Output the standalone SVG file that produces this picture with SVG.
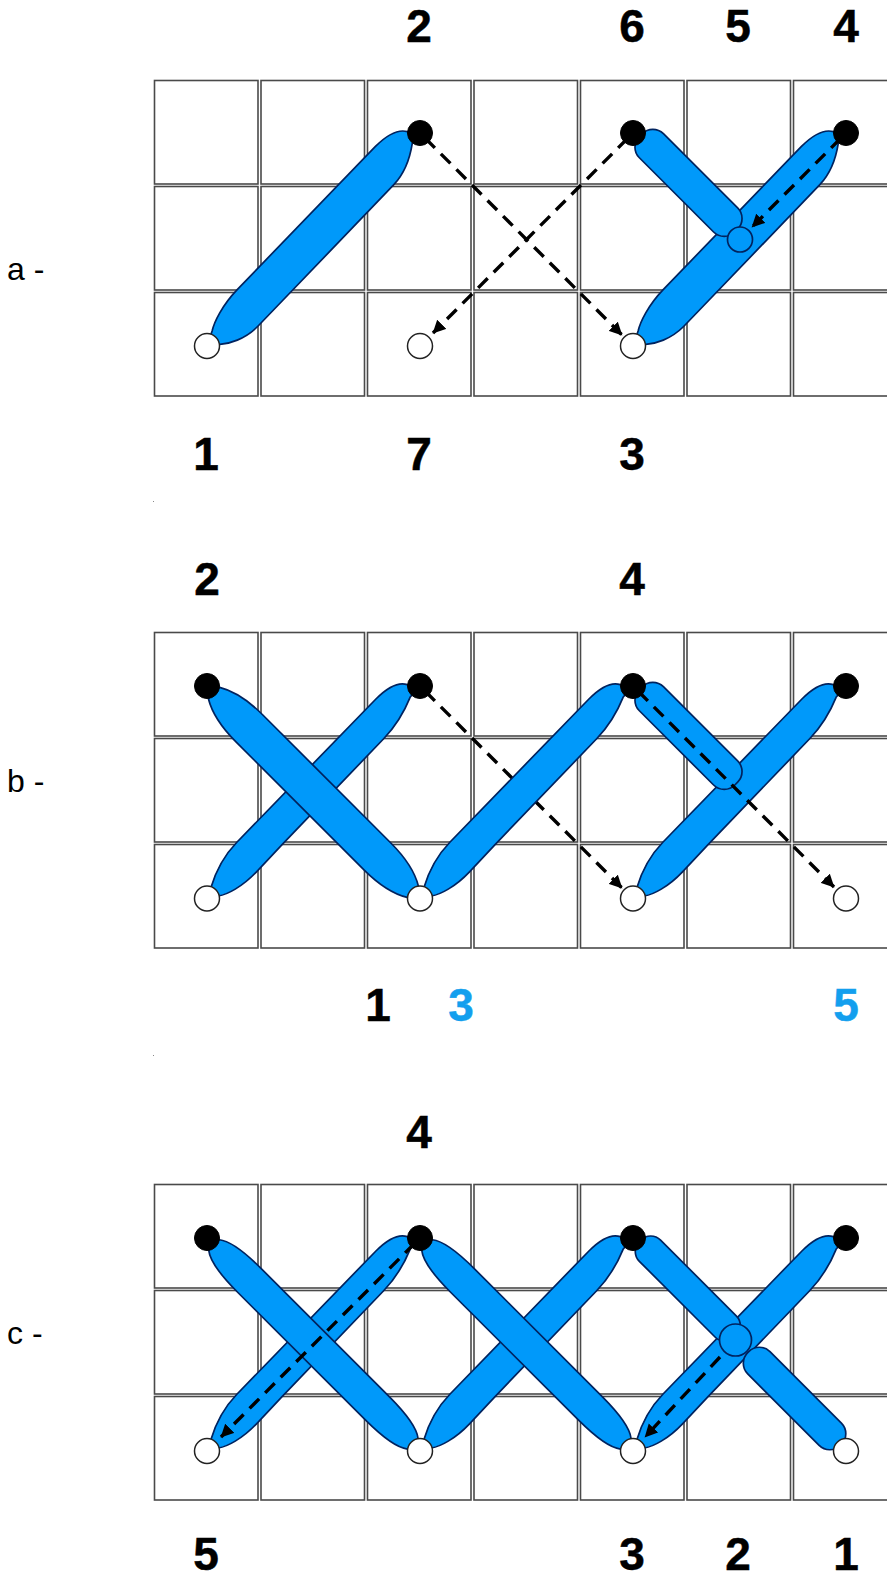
<svg xmlns="http://www.w3.org/2000/svg" width="887" height="1576" viewBox="0 0 887 1576">
<style>
.cell{fill:#fff;stroke:#4a4a4a;stroke-width:1.6}
.st{fill:#0099fa;stroke:#00235f;stroke-width:1.7}
.blk{fill:#000;stroke:#000;stroke-width:1}
.wht{fill:#fff;stroke:#222;stroke-width:1.5}
.mid{fill:#0099fa;stroke:#00235f;stroke-width:1.7}
.dash{fill:none;stroke:#000;stroke-width:3.4;stroke-dasharray:13.5 8.5;stroke-dashoffset:14.5;marker-end:url(#arr)}
.num{font-family:"Liberation Sans",Arial,sans-serif;font-weight:700;font-size:46px;text-anchor:middle;fill:#000;stroke:#000;stroke-width:.5}
.num.cy{fill:#139fee;stroke:#139fee}
.tag{font-family:"Liberation Sans",Arial,sans-serif;font-size:32px;fill:#000}
</style>
<defs>
<marker id="arr" markerUnits="userSpaceOnUse" markerWidth="14" markerHeight="14" refX="11.5" refY="6.5" orient="auto" viewBox="0 0 13 13"><path d="M0,0.5L12,6.5L0,12.5Z" fill="#000"/></marker>
<path id="long" d="M10,-7.5C18,-14 38,-16.7 60,-16.7L241,-16.7C263,-16.7 283,-14 291,-7.5L291,7.5C283,14 263,16.7 241,16.7L60,16.7C38,16.7 18,14 10,7.5Z"/>
<path id="longw" d="M10,-8C20,-14 38,-19 60,-19L241,-19C263,-19 281,-14 291,-8L291,8C281,14 263,19 241,19L60,19C38,19 20,14 10,8Z"/>
<path id="asym" d="M0,0L8,10C11,16 20,22 40,22L240,19C264,18.6 280,11 291,5L301,0L291,-6C284,-11 268,-16.4 247,-15.8L210,-14.6L63,-11.6C45,-11.2 28,-6.5 15,-1Z"/>
<path id="asymw" d="M0,0L8,10C12,17 22,22 41,22L240,18.5C262,18 279,12 287,7L301,0L291,-8C284,-14 270,-22 252,-22L200,-21L55,-18C38,-17.6 24,-10 13,-2Z"/>
<rect id="short" x="7" y="-21" width="135" height="34" rx="15"/>
<g id="grid">
<rect class="cell" x="154.5" y="0" width="103.5" height="103.5"/><rect class="cell" x="261" y="0" width="103.5" height="103.5"/><rect class="cell" x="367.5" y="0" width="103.5" height="103.5"/><rect class="cell" x="474" y="0" width="103.5" height="103.5"/><rect class="cell" x="580.5" y="0" width="103.5" height="103.5"/><rect class="cell" x="687" y="0" width="103.5" height="103.5"/><rect class="cell" x="793.5" y="0" width="103.5" height="103.5"/>
<rect class="cell" x="154.5" y="106" width="103.5" height="103.5"/><rect class="cell" x="261" y="106" width="103.5" height="103.5"/><rect class="cell" x="367.5" y="106" width="103.5" height="103.5"/><rect class="cell" x="474" y="106" width="103.5" height="103.5"/><rect class="cell" x="580.5" y="106" width="103.5" height="103.5"/><rect class="cell" x="687" y="106" width="103.5" height="103.5"/><rect class="cell" x="793.5" y="106" width="103.5" height="103.5"/>
<rect class="cell" x="154.5" y="212" width="103.5" height="103.5"/><rect class="cell" x="261" y="212" width="103.5" height="103.5"/><rect class="cell" x="367.5" y="212" width="103.5" height="103.5"/><rect class="cell" x="474" y="212" width="103.5" height="103.5"/><rect class="cell" x="580.5" y="212" width="103.5" height="103.5"/><rect class="cell" x="687" y="212" width="103.5" height="103.5"/><rect class="cell" x="793.5" y="212" width="103.5" height="103.5"/>
</g>
</defs>
<rect width="887" height="1576" fill="#fff"/>

<g id="panel-a">
<use href="#grid" y="80.5"/>
<g id="stitches-a">
<use href="#asymw" class="st" transform="translate(420,133) rotate(135)"/>
<use href="#asymw" class="st" transform="translate(846,133) rotate(135)"/>
<use href="#short" class="st" transform="translate(633,133) rotate(45)"/>
</g>
<g id="points-a">
<circle class="blk" cx="420" cy="133" r="12.5"/><circle class="blk" cx="633" cy="133" r="12.5"/><circle class="blk" cx="846" cy="133" r="12.5"/>
<circle class="wht" cx="207" cy="346" r="12.5"/><circle class="wht" cx="420" cy="346" r="12.5"/><circle class="wht" cx="633" cy="346" r="12.5"/>
<circle class="mid" cx="740" cy="239.5" r="12.5"/>
</g>
<g id="connectors-a">
<path class="dash" d="M420,133L622,335"/>
<path class="dash" d="M633,133L433,333"/>
<path class="dash" d="M846,133L752,227"/>
</g>
<text class="num" x="419" y="42">2</text><text class="num" x="632" y="42">6</text><text class="num" x="738" y="42">5</text><text class="num" x="846" y="42">4</text>
<text class="num" x="206" y="470">1</text><text class="num" x="419" y="470">7</text><text class="num" x="632" y="470">3</text>
<text class="tag" x="7" y="280">a -</text>
<rect x="153" y="501" width="1" height="1" fill="#888"/>
</g>

<g id="panel-b">
<use href="#grid" y="632.5"/>
<g id="connectors-b-under">
<path class="dash" d="M420,686L622,888"/>
</g>
<g id="stitches-b">
<use href="#asym" class="st" transform="translate(420,686) rotate(135)"/>
<use href="#longw" class="st" transform="translate(207,686) rotate(45)"/>
<use href="#asym" class="st" transform="translate(633,686) rotate(135)"/>
<use href="#asym" class="st" transform="translate(846,686) rotate(135)"/>
<use href="#short" class="st" transform="translate(633,686) rotate(45)"/>
</g>
<g id="points-b">
<circle class="blk" cx="207" cy="686" r="12.5"/><circle class="blk" cx="420" cy="686" r="12.5"/><circle class="blk" cx="633" cy="686" r="12.5"/><circle class="blk" cx="846" cy="686" r="12.5"/>
<circle class="wht" cx="207" cy="898.5" r="12.5"/><circle class="wht" cx="420" cy="898.5" r="12.5"/><circle class="wht" cx="633" cy="898.5" r="12.5"/><circle class="wht" cx="846" cy="898.5" r="12.5"/>
</g>
<g id="connectors-b">
<path class="dash" d="M633,686L834,887"/>
</g>
<text class="num" x="207" y="595">2</text><text class="num" x="632" y="595">4</text>
<text class="num" x="378" y="1021">1</text><text class="num cy" x="461" y="1021">3</text><text class="num cy" x="846" y="1021">5</text>
<text class="tag" x="7" y="792">b -</text>
<rect x="153" y="1055" width="1" height="1" fill="#888"/>
</g>

<g id="panel-c">
<use href="#grid" y="1184.5"/>
<g id="stitches-c">
<use href="#asym" class="st" transform="translate(420,1238) rotate(135)"/>
<use href="#long" class="st" transform="translate(207,1238) rotate(45)"/>
<use href="#asym" class="st" transform="translate(633,1238) rotate(135)"/>
<use href="#long" class="st" transform="translate(420,1238) rotate(45)"/>
<use href="#asym" class="st" transform="translate(846,1238) rotate(135)"/>
<rect class="st" x="7" y="-18" width="135" height="30" rx="14" transform="translate(633,1238) rotate(45)"/>
<rect class="st" x="8" y="-15" width="131" height="31.5" rx="15" transform="translate(846,1451) rotate(225)"/>
</g>
<g id="points-c">
<circle class="blk" cx="207" cy="1238" r="12.5"/><circle class="blk" cx="420" cy="1238" r="12.5"/><circle class="blk" cx="633" cy="1238" r="12.5"/><circle class="blk" cx="846" cy="1238" r="12.5"/>
<circle class="wht" cx="207" cy="1451" r="12.5"/><circle class="wht" cx="420" cy="1451" r="12.5"/><circle class="wht" cx="633" cy="1451" r="12.5"/><circle class="wht" cx="846" cy="1451" r="12.5"/>
<circle class="mid" cx="735.5" cy="1340" r="16"/>
</g>
<g id="connectors-c">
<path class="dash" d="M420,1238L221,1437"/>
<path class="dash" style="stroke-dashoffset:0" d="M720,1357L645,1437"/>
</g>
<text class="num" x="419" y="1148">4</text>
<text class="num" x="206" y="1570">5</text><text class="num" x="632" y="1570">3</text><text class="num" x="738" y="1570">2</text><text class="num" x="846" y="1570">1</text>
<text class="tag" x="7" y="1344">c -</text>
</g>
</svg>
